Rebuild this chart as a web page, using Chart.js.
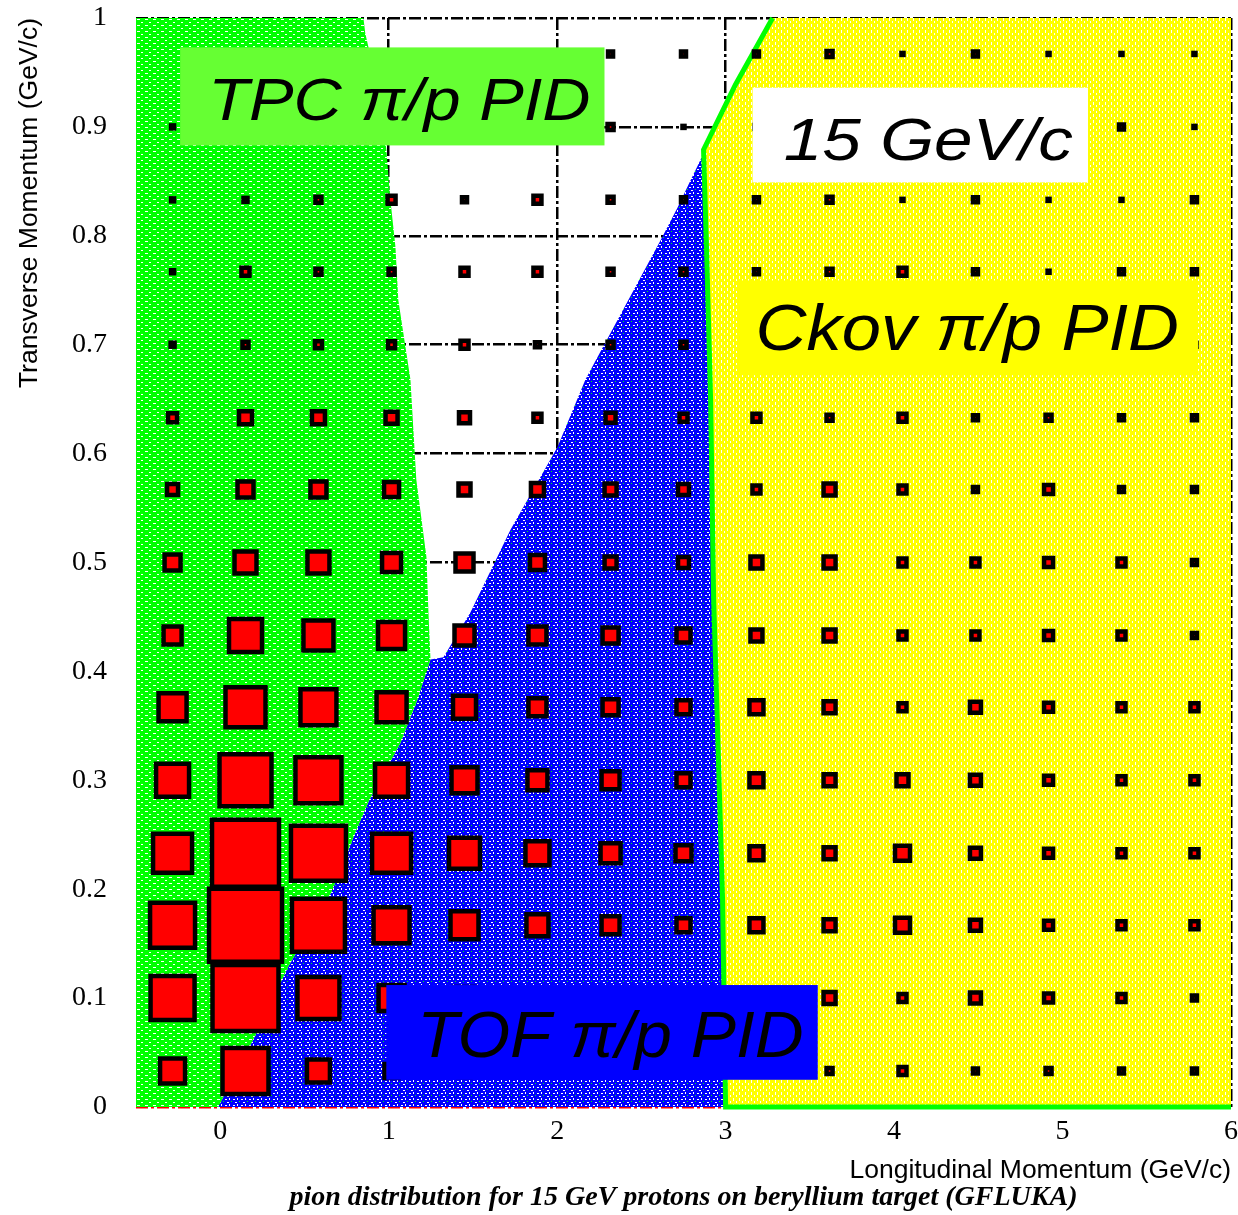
<!DOCTYPE html>
<html>
<head>
<meta charset="utf-8">
<title>pion distribution</title>
<script src="https://cdn.jsdelivr.net/npm/chart.js@4.4.1/dist/chart.umd.min.js"></script>
<style>
  body { margin: 0; background: #fff; }
  #wrap { width: 1238px; height: 1215px; }
</style>
</head>
<body>
<div id="wrap"><canvas id="pionChart"></canvas></div>
<script>
// histogram bin centres (15 x 15 cells)
var xBins = [-0.283, 0.150, 0.583, 1.017, 1.450, 1.883, 2.317, 2.750, 3.183, 3.617, 4.050, 4.483, 4.917, 5.350, 5.783];
var yBins = [0.033, 0.100, 0.167, 0.233, 0.300, 0.367, 0.433, 0.500, 0.567, 0.633, 0.700, 0.767, 0.833, 0.900, 0.967];
var binWidthX = 0.4333;
var fullCount = 73; // content that fills a whole cell

// cell contents, one row per pT bin (bottom row first)
var counts = [
  [25, 46, 23, 14, 12, 10,  8,  7,  8,  6,  8,  5,  6,  5,  5],
  [44, 66, 42, 26, 22, 18, 14, 12, 14, 12,  8, 11,  9,  8,  5],
  [45, 73, 53, 36, 28, 22, 18, 14, 14, 12, 15, 11,  9,  8,  8],
  [39, 67, 55, 39, 31, 24, 20, 16, 14, 12, 15, 11,  9,  8,  8],
  [33, 52, 46, 33, 26, 20, 18, 14, 14, 12, 12, 11,  9,  8,  8],
  [28, 40, 36, 30, 23, 18, 16, 14, 14, 12,  8, 11,  9,  8,  8],
  [18, 33, 30, 27, 20, 18, 16, 14, 12, 12,  8,  8,  9,  8,  5],
  [16, 22, 22, 19, 18, 15, 12, 11, 12, 12,  8,  8,  9,  8,  5],
  [11, 16, 16, 15, 12, 13, 12, 11,  8, 12,  8,  5,  9,  5,  5],
  [ 9, 13, 13, 12, 11,  8, 10,  8,  8,  6,  8,  5,  6,  5,  5],
  [ 4,  6,  7,  7,  8,  5,  6,  6,  6,  6,  5,  5,  4,  4,  4],
  [ 3,  8,  6,  6,  8,  8,  6,  6,  5,  6,  8,  5,  2,  5,  5],
  [ 3,  4,  6,  8,  5,  8,  6,  5,  5,  6,  2,  5,  2,  2,  5],
  [ 3,  3,  3,  3,  3,  3,  6,  2,  4,  5,  3,  4,  2,  5,  2],
  [ 0,  1,  1,  1,  1,  1,  5,  5,  5,  6,  2,  5,  2,  2,  2]
];

// PID acceptance regions, edges as [pL, pT]
var tpcEdge = [[-0.012, 0], [0.196, 0.062], [0.404, 0.129], [0.659, 0.197], [0.802, 0.252], [0.885, 0.282],
  [1.069, 0.334], [1.170, 0.374], [1.248, 0.411], [1.236, 0.454], [1.224, 0.505], [1.164, 0.576],
  [1.129, 0.668], [1.057, 0.741], [1.040, 0.790], [1.010, 0.833], [0.986, 0.879], [0.951, 0.925],
  [0.861, 0.986], [0.850, 1.0]];
var tofEdge = [[-0.012, 0], [0.196, 0.062], [0.404, 0.129], [0.659, 0.197], [0.802, 0.252], [0.885, 0.282],
  [1.069, 0.334], [1.170, 0.374], [1.248, 0.411], [1.325, 0.413], [1.485, 0.454], [1.723, 0.530],
  [2.002, 0.606], [2.168, 0.668], [2.614, 0.796], [2.715, 0.826], [2.792, 0.851], [2.852, 0.870],
  [2.869, 0.879]];
var ckovEdge = [[3.279, 1.0], [3.059, 0.939], [2.869, 0.879], [2.887, 0.787], [2.911, 0.649],
  [2.929, 0.466], [2.947, 0.374], [2.982, 0.190], [3.000, 0], [6.0, 0]];

var xTicks = [0, 1, 2, 3, 4, 5, 6];
var yTicks = [0, 0.1, 0.2, 0.3, 0.4, 0.5, 0.6, 0.7, 0.8, 0.9, 1];
var yTickLabels = ['0', '0.1', '0.2', '0.3', '0.4', '0.5', '0.6', '0.7', '0.8', '0.9', '1'];

Chart.defaults.font.family = "'Liberation Sans', Arial, sans-serif";
Chart.defaults.color = '#000';

// dithered fills like the ROOT fill styles
function tilePattern(base, w, h, specks) {
    var c = document.createElement('canvas');
    c.width = w;
    c.height = h;
    var g = c.getContext('2d');
    g.fillStyle = base;
    g.fillRect(0, 0, w, h);
    specks.forEach(function (s) {
        g.fillStyle = s[0];
        g.fillRect(s[1], s[2], s[3], s[4]);
    });
    return g.createPattern(c, 'repeat');
}
var W = '#ffffff';
var greenFill = tilePattern('#00ff00', 8, 6, [[W, 1, 1, 3, 1], [W, 5, 4, 2, 1]]);
var blueFill = tilePattern('#0000ff', 8, 6, [[W, 1, 1, 2, 1], [W, 5, 0, 1, 2], [W, 3, 4, 2, 1], ['#00ff00', 7, 3, 1, 1]]);
var yellowFill = tilePattern('#ffff00', 6, 6, [[W, 1, 0, 1, 3], [W, 4, 3, 1, 2]]);

function toPoints(edge) {
    return edge.map(function (p) { return { x: p[0], y: p[1] }; });
}

var boxPoints = [];
counts.forEach(function (row, j) {
    row.forEach(function (v, i) {
        if (v > 0) boxPoints.push({ x: xBins[i], y: yBins[j], v: v });
    });
});

// box side proportional to the cell content
function boxRadius(ctx) {
    if (!ctx.raw) return 0;
    var xs = ctx.chart.scales.x;
    var cell = xs.getPixelForValue(binWidthX) - xs.getPixelForValue(0);
    return cell * ctx.raw.v / fullCount / Math.SQRT2;
}

// text boxes drawn over the plot
var labelBoxes = [
    { text: 'TPC \u03c0/p PID', fill: '#66ff33', box: [-0.238, 0.883, 2.281, 0.973], tx: [-0.071, 2.198], base: 0.906, size: 59 },
    { text: '15 GeV/c', fill: '#ffffff', box: [3.160, 0.849, 5.151, 0.936], tx: [3.345, 5.061], base: 0.870, size: 60 },
    { text: 'Ckov \u03c0/p PID', fill: '#ffff00', box: [3.071, 0.672, 5.804, 0.759], tx: [3.178, 5.691], base: 0.695, size: 64 },
    { text: 'TOF \u03c0/p PID', fill: '#0000ff', box: [0.986, 0.025, 3.547, 0.112], tx: [1.170, 3.463], base: 0.046, size: 64 }
];

var labelPlugin = {
    id: 'pidLabels',
    afterDatasetsDraw: function (chart) {
        var c = chart.ctx, xs = chart.scales.x, ys = chart.scales.y;
        labelBoxes.forEach(function (b) {
            var x0 = xs.getPixelForValue(b.box[0]), x1 = xs.getPixelForValue(b.box[2]);
            var y0 = ys.getPixelForValue(b.box[3]), y1 = ys.getPixelForValue(b.box[1]);
            c.save();
            c.fillStyle = b.fill;
            c.fillRect(x0, y0, x1 - x0, y1 - y0);
            c.font = 'italic ' + b.size + "px 'Liberation Sans', Arial, sans-serif";
            var tx0 = xs.getPixelForValue(b.tx[0]), tx1 = xs.getPixelForValue(b.tx[1]);
            var sx = (tx1 - tx0) / c.measureText(b.text).width;
            c.translate(tx0, ys.getPixelForValue(b.base));
            c.scale(sx, 1);
            c.fillStyle = '#000';
            c.textBaseline = 'alphabetic';
            c.textAlign = 'left';
            c.fillText(b.text, 0, 0);
            c.restore();
        });
    }
};

var gridDash = [12, 3, 3, 3];

var ctx = document.getElementById('pionChart').getContext('2d');
var pionChart = new Chart(ctx, {
    type: 'scatter',
    data: {
        datasets: [
            {
                label: 'pion cells',
                data: boxPoints,
                pointStyle: 'rect',
                pointRadius: boxRadius,
                pointBackgroundColor: '#ff0000',
                pointBorderColor: '#000000',
                pointBorderWidth: 4.5
            },
            {
                label: 'TPC',
                type: 'line',
                indexAxis: 'y',
                data: toPoints(tpcEdge),
                borderWidth: 0,
                borderColor: 'transparent',
                pointRadius: 0,
                backgroundColor: greenFill,
                fill: { value: -0.5 }
            },
            {
                label: 'Ckov',
                type: 'line',
                indexAxis: 'y',
                data: toPoints(ckovEdge),
                borderWidth: 5,
                borderColor: '#00ff00',
                pointRadius: 0,
                backgroundColor: yellowFill,
                fill: { value: 6 },
                clip: 4
            },
            {
                label: 'TOF',
                type: 'line',
                indexAxis: 'y',
                data: toPoints(tofEdge),
                borderWidth: 0,
                borderColor: 'transparent',
                pointRadius: 0,
                backgroundColor: blueFill,
                fill: { value: 6 }
            }
        ]
    },
    options: {
        responsive: true,
        maintainAspectRatio: false,
        animation: false,
        events: [],
        layout: { padding: { top: 18, right: 7, bottom: 0, left: 0 } },
        scales: {
            x: {
                type: 'linear',
                min: -0.5,
                max: 6,
                afterBuildTicks: function (scale) {
                    scale.ticks = xTicks.map(function (v) { return { value: v }; });
                },
                afterFit: function (scale) { scale.height = 74.4; },
                grid: { color: '#000', lineWidth: 2.5, drawTicks: true, tickLength: 8, tickColor: 'transparent' },
                border: { display: false, dash: gridDash },
                ticks: {
                    autoSkip: false,
                    maxRotation: 0,
                    padding: 0,
                    font: { family: "'Liberation Serif', serif", size: 28 }
                },
                title: {
                    display: true,
                    text: 'Longitudinal Momentum (GeV/c)',
                    align: 'end',
                    font: { size: 26.5, lineHeight: 0.8 },
                    padding: { top: 0, bottom: 0 }
                }
            },
            y: {
                type: 'linear',
                min: 0,
                max: 1,
                afterBuildTicks: function (scale) {
                    scale.ticks = yTicks.map(function (v) { return { value: v }; });
                },
                afterFit: function (scale) { scale.width = 136; },
                grid: {
                    color: function (c) { return c.tick && c.tick.value === 0 ? '#ff0000' : '#000'; },
                    lineWidth: 2.5,
                    drawTicks: true,
                    tickLength: 29,
                    tickColor: 'transparent'
                },
                border: { display: false, dash: gridDash },
                ticks: {
                    autoSkip: false,
                    padding: 0,
                    font: { family: "'Liberation Serif', serif", size: 28 },
                    callback: function (value) { return yTickLabels[yTicks.indexOf(value)]; }
                },
                title: {
                    display: true,
                    text: 'Transverse Momentum (GeV/c)',
                    align: 'end',
                    font: { size: 26.5, lineHeight: 1.2 },
                    padding: { top: 14, bottom: 0 }
                }
            }
        },
        plugins: {
            legend: { display: false },
            tooltip: { enabled: false },
            title: {
                display: true,
                position: 'bottom',
                fullSize: false,
                text: 'pion distribution for 15 GeV protons on beryllium target (GFLUKA)',
                font: { family: "'Liberation Serif', serif", size: 28, style: 'italic', weight: 'bold' },
                padding: { top: 0, bottom: 0 }
            }
        }
    },
    plugins: [labelPlugin]
});
</script>
</body>
</html>
